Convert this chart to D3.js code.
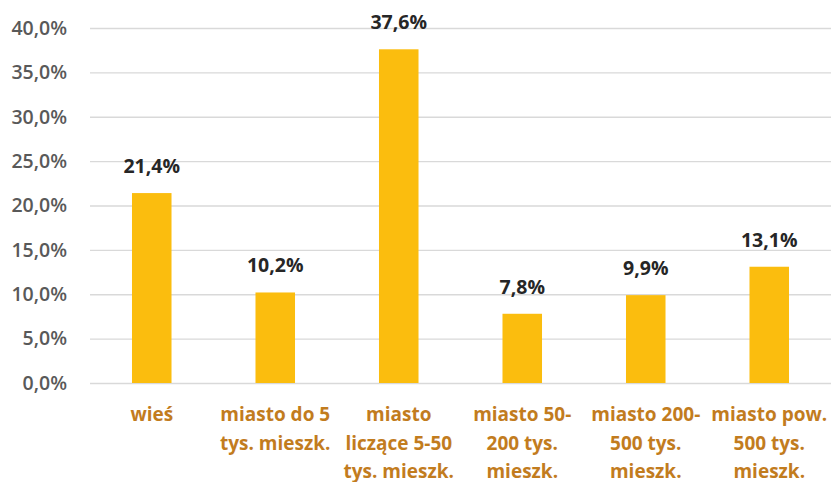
<!DOCTYPE html>
<html>
<head>
  <meta charset="utf-8">
  <script src="https://d3js.org/d3.v7.min.js"></script>
  <style>
    body { margin: 0; background: #fff; }
    text { font-family: "Open Sans", sans-serif; }
  </style>
</head>
<body>
  <div id="chart"></div>
  <script>
    const categories = [
      ["wieś"],
      ["miasto do 5", "tys. mieszk."],
      ["miasto", "liczące 5-50", "tys. mieszk."],
      ["miasto 50-", "200 tys.", "mieszk."],
      ["miasto 200-", "500 tys.", "mieszk."],
      ["miasto pow.", "500 tys.", "mieszk."]
    ];
    const values = [21.4, 10.2, 37.6, 7.8, 9.9, 13.1];
    const yTicks = [0, 5, 10, 15, 20, 25, 30, 35, 40];

    const fmt = v => v.toFixed(1).replace(".", ",") + "%";

    const width = 832, height = 482;
    const margin = { top: 28, right: 1, bottom: 99, left: 90 };

    const svg = d3.select("#chart").append("svg")
      .attr("width", width)
      .attr("height", height);

    const x = d3.scaleBand()
      .domain(d3.range(categories.length))
      .range([margin.left, width - margin.right])
      .paddingInner(0.68)
      .paddingOuter(0.34);

    const y = d3.scaleLinear()
      .domain([0, 40])
      .range([height - margin.bottom, margin.top]);

    // grid lines + tick labels
    const yAxis = d3.axisLeft(y)
      .tickValues(yTicks)
      .tickSize(-(width - margin.left - margin.right))
      .tickPadding(23)
      .tickFormat(fmt);

    const gy = svg.append("g")
      .attr("transform", `translate(${margin.left},0)`)
      .call(yAxis);
    gy.select(".domain").remove();
    gy.selectAll(".tick line").attr("stroke", "#d9d9d9").attr("stroke-width", 1.3);
    gy.selectAll(".tick text")
      .attr("fill", "#595959")
      .attr("font-size", 19.5)
      .attr("font-weight", 600)
      .attr("font-family", "'Open Sans', sans-serif");

    // bars
    svg.selectAll(".bar")
      .data(values)
      .enter().append("rect")
      .attr("class", "bar")
      .attr("x", (d, i) => x(i))
      .attr("y", d => y(d))
      .attr("width", x.bandwidth())
      .attr("height", d => y(0) - y(d))
      .attr("fill", "#fbbd0e");

    // value labels
    svg.selectAll(".val")
      .data(values)
      .enter().append("text")
      .attr("class", "val")
      .attr("x", (d, i) => x(i) + x.bandwidth() / 2)
      .attr("y", d => y(d) - 20)
      .attr("text-anchor", "middle")
      .attr("font-size", 19.5)
      .attr("font-weight", 700)
      .attr("fill", "#262626")
      .text(d => fmt(d));

    // category labels
    const cat = svg.selectAll(".cat")
      .data(categories)
      .enter().append("text")
      .attr("class", "cat")
      .attr("text-anchor", "middle")
      .attr("font-size", 19)
      .attr("font-weight", 700)
      .attr("fill", "#c27c1e");

    cat.selectAll("tspan")
      .data((d, i) => d.map(line => ({ line, i })))
      .enter().append("tspan")
      .attr("x", d => x(d.i) + x.bandwidth() / 2)
      .attr("y", (d, j) => 421 + j * 28.5)
      .text(d => d.line);
  </script>
</body>
</html>
